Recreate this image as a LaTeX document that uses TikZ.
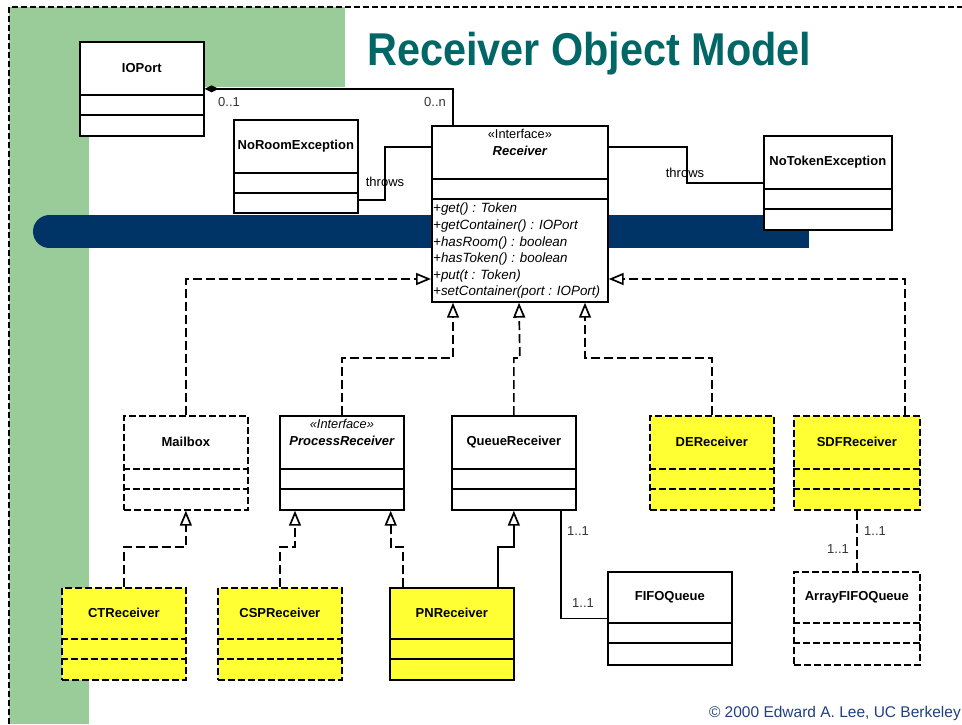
\documentclass[tikz,border=0pt]{standalone}
\usepackage{fontspec}
\setmainfont{Liberation Sans}
\usetikzlibrary{arrows.meta,calc}

\definecolor{sidegreen}{HTML}{99CC99}
\definecolor{barblue}{HTML}{003366}
\definecolor{titleteal}{HTML}{006666}
\definecolor{umlyellow}{HTML}{FFFF33}
\definecolor{creditblue}{HTML}{1F3F7F}

\tikzset{
  classbox/.style={draw, line width=1.7pt, inner sep=0pt, anchor=north west},
  solidborder/.style={solid},
  dashborder/.style={dash pattern=on 7pt off 3pt},
  classline/.style={line width=1.7pt},
  classtitle/.style={font=\fontsize{13}{15}\selectfont\bfseries, inner sep=0pt},
  stereotype/.style={font=\fontsize{12.8}{15}\selectfont, inner sep=0pt},
  methods/.style={font=\fontsize{13.4}{16.6}\selectfont\itshape, align=left, inner sep=0pt, anchor=north west},
  link/.style={line width=1.7pt, line join=miter},
  realize/.style={link, dash pattern=on 9pt off 4pt, -{Triangle[open, length=15pt, width=12pt]}},
  generalize/.style={link, -{Triangle[open, length=15pt, width=12pt]}},
  assocdash/.style={link, dash pattern=on 9pt off 4pt},
  compose/.style={link, {Diamond[length=14pt, width=7pt]}-},
  multiplicity/.style={font=\fontsize{13}{15}\selectfont, inner sep=0pt, text=black!80},
}

% #1 name, #2 border style, #3 fill, #4 x, #5 y, #6 width, #7 height, #8 title, #9 name compartment height
\newcommand{\umlclass}[9]{%
  \node[classbox, #2, fill=#3, minimum width=#6pt, minimum height=#7pt] (#1) at (#4,#5) {};
  \draw[classline, #2] ([yshift=-#9pt]#1.north west) -- ([yshift=-#9pt]#1.north east)
        ([yshift=-#9pt-20pt]#1.north west) -- ([yshift=-#9pt-20pt]#1.north east);
  \node[classtitle] (#1-title) at ([yshift=-#9pt/2]#1.north) {#8};
}

\begin{document}
\begin{tikzpicture}[x=1pt, y=-1pt]
  \useasboundingbox (0,0) rectangle (962,724);

  % backdrop: green corner band, frame and blue bar
  \fill[sidegreen] (9,7) rectangle (345,87);
  \fill[sidegreen] (9,7) rectangle (89,724);
  \draw[line width=1.5pt, dash pattern=on 6pt off 3pt] (9,724) -- (9,7) -- (962,7);
  \fill[barblue] (49.5,215) rectangle (809,248);
  \fill[barblue] (49.5,231.5) circle (16.5pt);

  % title and credit
  \node[anchor=base west, inner sep=0pt, text=titleteal, font=\fontsize{46}{50}\selectfont\bfseries]
    (title) at (367,65) {\scalebox{0.9}[1]{Receiver Object Model}};
  \node[anchor=base east, inner sep=0pt, text=creditblue, font=\fontsize{15.5}{17}\selectfont]
    (credit) at (961,717) {\textcopyright{} 2000 Edward A. Lee, UC Berkeley};

  % classes
  \umlclass{IOPort}{solidborder}{white}{79}{41}{124}{94}{IOPort}{54}
  \umlclass{NoRoom}{solidborder}{white}{233}{119}{124}{93}{NoRoomException}{54}
  \umlclass{Receiver}{solidborder}{white}{431}{125}{176}{176}{}{54}
  \node[stereotype] (recv-stereo) at ([yshift=-9pt]Receiver.north) {«Interface»};
  \node[classtitle, font=\fontsize{13}{15}\selectfont\bfseries\itshape] (recv-name) at ([yshift=-26pt]Receiver.north) {Receiver};
  \node[methods] (recv-ops) at (433,203) {+get() : Token\\+getContainer() : IOPort\\+hasRoom() : boolean\\+hasToken() : boolean\\+put(t : Token)\\+setContainer(port : IOPort)};
  \umlclass{NoToken}{solidborder}{white}{763}{135}{128}{94}{NoTokenException}{54}

  \umlclass{Mailbox}{dashborder}{white}{123}{415}{124}{94}{Mailbox}{54}
  \umlclass{PR}{solidborder}{white}{279}{415}{124}{94}{}{54}
  \node[stereotype, font=\fontsize{12.8}{15}\selectfont\itshape] (pr-stereo) at ([yshift=-9pt]PR.north) {«Interface»};
  \node[classtitle, font=\fontsize{13}{15}\selectfont\bfseries\itshape] (pr-name) at ([yshift=-26pt]PR.north) {ProcessReceiver};
  \umlclass{QR}{solidborder}{white}{451}{415}{124}{94}{QueueReceiver}{54}
  \umlclass{DE}{dashborder}{umlyellow}{649}{415}{124}{94}{DEReceiver}{54}
  \umlclass{SDF}{dashborder}{umlyellow}{793}{415}{126}{94}{SDFReceiver}{54}

  \umlclass{CT}{dashborder}{umlyellow}{61}{587}{124}{92}{CTReceiver}{52}
  \umlclass{CSP}{dashborder}{umlyellow}{217}{587}{124}{92}{CSPReceiver}{52}
  \umlclass{PN}{solidborder}{umlyellow}{389}{587}{124}{92}{PNReceiver}{52}
  \umlclass{FIFO}{solidborder}{white}{607}{571}{124}{93}{FIFOQueue}{52}
  \umlclass{AFQ}{dashborder}{white}{793}{571}{126}{93}{ArrayFIFOQueue}{52}

  % composition IOPort -- Receiver
  \draw[compose] (IOPort.east) -| ([xshift=22pt]Receiver.north west);
  \node[multiplicity] (m-port) at (229,102) {0..1};
  \node[multiplicity] (m-recv) at (435,102) {0..n};

  % throws dependencies
  \draw[link] ([yshift=-22pt]Receiver.north west) -- ++(-46,0) |- ([yshift=-81pt]NoRoom.north east);
  \node[multiplicity, text=black] (throws-l) at (385,182) {throws};
  \draw[link] ([yshift=-22pt]Receiver.north east) -- ++(78,0) |- (NoToken.west);
  \node[multiplicity, text=black] (throws-r) at (685,173) {throws};

  % realizations of Receiver
  \draw[realize] (Mailbox.north) |- ([yshift=-154pt]Receiver.north west);
  \draw[realize] (PR.north) -- ++(0,-57) -| ([xshift=22pt]Receiver.south west);
  \draw[realize] (QR.north) -- ++(0,-57) -- ++(6,0) -- ([xshift=88pt]Receiver.south west);
  \draw[realize] (DE.north) -- ++(0,-57) -| ([xshift=154pt]Receiver.south west);
  \draw[realize] ([xshift=-16pt]SDF.north east) |- ([yshift=-154pt]Receiver.north east);

  % lower level
  \draw[realize] (CT.north) -- ++(0,-40) -| (Mailbox.south);
  \draw[realize] (CSP.north) -- ++(0,-40) -| ([xshift=16pt]PR.south west);
  \draw[realize] ([xshift=14pt]PN.north west) -- ++(0,-40) -| ([xshift=-14pt]PR.south east);
  \draw[generalize] ([xshift=-17pt]PN.north east) -- ++(0,-40) -| (QR.south);

  % queue associations
  \draw[link] ([xshift=-16pt]QR.south east) |- (FIFO.west);
  \node[multiplicity] (m-qr) at (578,531) {1..1};
  \node[multiplicity] (m-fifo) at (583,603) {1..1};
  \draw[assocdash] (SDF.south) -- (AFQ.north);
  \node[multiplicity] (m-sdf) at (875,531) {1..1};
  \node[multiplicity] (m-afq) at (838,549) {1..1};
\end{tikzpicture}
\end{document}
